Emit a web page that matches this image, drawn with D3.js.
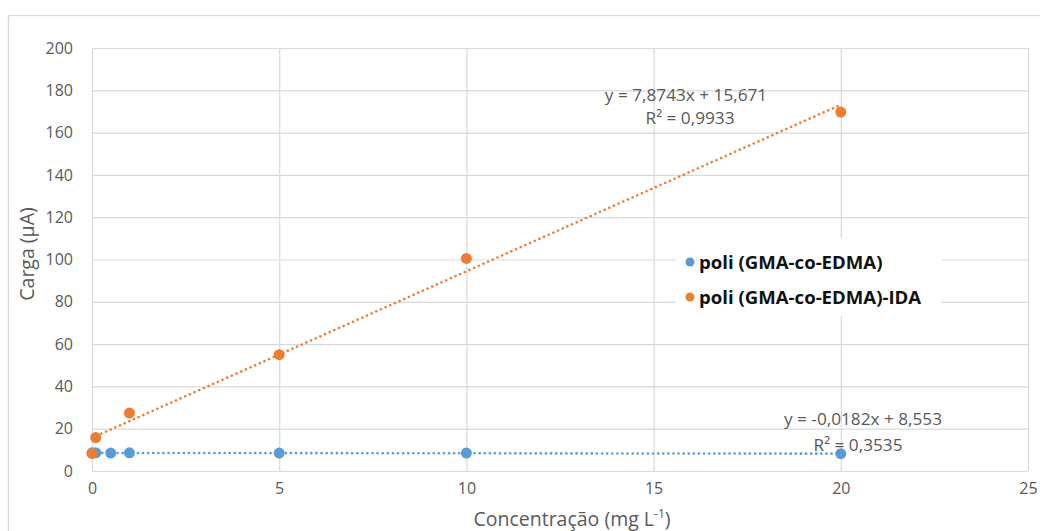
<!DOCTYPE html>
<html>
<head>
<meta charset="utf-8">
<script src="https://cdn.jsdelivr.net/npm/d3@7"></script>
<style>
  body { margin: 0; background: #fff; }
  svg { display: block; }
  text { font-family: "Open Sans", Lato, sans-serif; fill: #595959; }
</style>
</head>
<body>
<div class="chart"></div>
<script>
const width = 1040;
const height = 531;

// data
const blueX = [0, 0.1, 0.5, 1, 5, 10, 20];
const blueY = [8.6, 8.6, 8.5, 8.6, 8.5, 8.5, 8.2];
const orangeX = [0, 0.1, 1, 5, 10, 20];
const orangeY = [8.3, 15.8, 27.4, 55, 100.5, 169.7];
const seriesNames = ["poli (GMA-co-EDMA)", "poli (GMA-co-EDMA)-IDA"];
const trendSlope = [-0.0182, 7.8743];
const trendIntercept = [8.553, 15.671];
const trendLabels = [["y = -0,0182x + 8,553", "R² = 0,3535"], ["y = 7,8743x + 15,671", "R² = 0,9933"]];
const xTicks = [0, 5, 10, 15, 20, 25];
const yTicks = [0, 20, 40, 60, 80, 100, 120, 140, 160, 180, 200];
const colors = ["#5B9BD5", "#ED7D31"];

const margin = { left: 92, right: 12, top: 48, bottom: 60 };

const svg = d3.select(".chart").append("svg")
  .attr("width", width)
  .attr("height", height);

// chart frame
svg.append("rect")
  .attr("x", 8.5).attr("y", 15.5)
  .attr("width", width + 20).attr("height", height + 20)
  .attr("fill", "none").attr("stroke", "#d9d9d9").attr("stroke-width", 1.3);

const x = d3.scaleLinear().domain([0, 25]).range([margin.left, width - margin.right]);
const y = d3.scaleLinear().domain([0, 200]).range([height - margin.bottom, margin.top]);

// gridlines
svg.append("g")
  .selectAll("line.h").data(yTicks).enter().append("line")
  .attr("x1", x(0)).attr("x2", x(25))
  .attr("y1", d => y(d) + 0.5).attr("y2", d => y(d) + 0.5)
  .attr("stroke", "#d9d9d9").attr("stroke-width", 1.2);
svg.append("g")
  .selectAll("line.v").data(xTicks).enter().append("line")
  .attr("x1", d => x(d) + 0.5).attr("x2", d => x(d) + 0.5)
  .attr("y1", y(0)).attr("y2", y(200))
  .attr("stroke", "#d9d9d9").attr("stroke-width", 1.2);

// axes (labels only)
const yAxis = svg.append("g")
  .attr("transform", `translate(${x(0)},0)`)
  .call(d3.axisLeft(y).tickValues(yTicks).tickSize(0).tickPadding(19));
const xAxis = svg.append("g")
  .attr("transform", `translate(0,${y(0)})`)
  .call(d3.axisBottom(x).tickValues(xTicks).tickSize(0).tickPadding(12));
[xAxis, yAxis].forEach(a => {
  a.select(".domain").remove();
  a.selectAll("text").style("font-size", "16px").attr("fill", "#595959")
    .style("font-family", "'Open Sans', sans-serif");
});

// axis titles
svg.append("text")
  .attr("x", 572).attr("y", 526)
  .attr("text-anchor", "middle")
  .style("font-size", "19.5px")
  .html('Concentração (mg L<tspan baseline-shift="super" font-size="12px">-1</tspan>)');
svg.append("text")
  .attr("transform", "translate(34,254) rotate(-90)")
  .attr("text-anchor", "middle")
  .style("font-size", "19.5px")
  .text("Carga (µA)");

// trendlines
const allX = [blueX, orangeX];
[0, 1].forEach(i => {
  const xmax = d3.max(allX[i]);
  svg.append("line")
    .attr("x1", x(0)).attr("y1", y(trendIntercept[i]))
    .attr("x2", x(xmax)).attr("y2", y(trendIntercept[i] + trendSlope[i] * xmax))
    .attr("stroke", colors[i]).attr("stroke-width", 2.6)
    .attr("stroke-dasharray", "0.1,5").attr("stroke-linecap", "round");
});

// points
const pointData = [blueX.map((d, j) => [d, blueY[j]]), orangeX.map((d, j) => [d, orangeY[j]])];
[0, 1].forEach(i => {
  svg.append("g").selectAll("circle").data(pointData[i]).enter().append("circle")
    .attr("cx", d => x(d[0])).attr("cy", d => y(d[1]))
    .attr("r", 5.5).attr("fill", colors[i]);
});

// trend equations
const labelPos = [[863, 425, 858, 451], [686, 101, 690, 124]];
[0, 1].forEach(i => {
  svg.append("text").attr("x", labelPos[i][0]).attr("y", labelPos[i][1])
    .attr("text-anchor", "middle").style("font-size", "17.2px").text(trendLabels[i][0]);
  svg.append("text").attr("x", labelPos[i][2]).attr("y", labelPos[i][3])
    .attr("text-anchor", "middle").style("font-size", "17.2px").text(trendLabels[i][1]);
});

// legend
const legend = svg.append("g").attr("transform", "translate(676,238)");
legend.append("rect").attr("width", 266).attr("height", 78).attr("fill", "#fff");
seriesNames.forEach((name, i) => {
  const row = legend.append("g").attr("transform", `translate(0,${24 + i * 35})`);
  row.append("circle").attr("cx", 14).attr("cy", 0).attr("r", 4.5).attr("fill", colors[i]);
  row.append("text").attr("x", 23).attr("y", 6.5)
    .style("font-size", "18.6px").style("font-weight", "bold")
    .style("fill", "#111").text(name);
});
</script>
</body>
</html>
